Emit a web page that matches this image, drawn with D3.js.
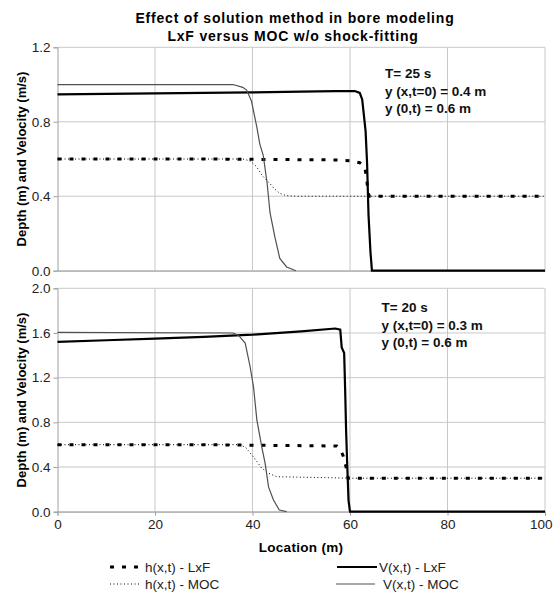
<!DOCTYPE html>
<html>
<head>
<meta charset="utf-8">
<script src="https://cdn.jsdelivr.net/npm/d3@7"></script>
<style>
  body { margin: 0; background: #fff; }
  text { font-family: "Liberation Sans", Arial, sans-serif; }
</style>
</head>
<body>
<div id="chart"></div>
<script>
// x ticks shared by both panels
const xTicks = [0, 20, 40, 60, 80, 100];

// Top panel: T = 25 s, y(x,t=0) = 0.4 m
const topYTicks = [0.0, 0.4, 0.8, 1.2];
const topNotes = ['T= 25 s', 'y (x,t=0) = 0.4 m', 'y (0,t) = 0.6 m'];
const topHLxF = [[0, 0.6], [30, 0.6], [57, 0.595], [60, 0.59], [62, 0.58], [63, 0.56], [63.4, 0.5], [63.7, 0.42], [64, 0.4], [100, 0.4]];
const topHMOC = [[0, 0.6], [38, 0.6], [39.5, 0.59], [40.8, 0.56], [42, 0.51], [43.5, 0.47], [44.5, 0.44], [45.6, 0.415], [47, 0.403], [49, 0.4], [100, 0.4]];
const topVLxF = [[0, 0.947], [10, 0.95], [20, 0.952], [30, 0.955], [40, 0.958], [50, 0.962], [57, 0.965], [61, 0.965], [62, 0.955], [62.5, 0.92], [63.2, 0.75], [63.5, 0.58], [63.8, 0.3], [64.2, 0.1], [64.5, 0], [100, 0]];
const topVMOC = [[0, 1.0], [36, 1.0], [38, 0.985], [38.8, 0.97], [39.8, 0.91], [40.9, 0.77], [41.5, 0.68], [42.2, 0.62], [43, 0.47], [43.6, 0.31], [44.6, 0.18], [45.6, 0.066], [47, 0.02], [48.9, 0]];

// Bottom panel: T = 20 s, y(x,t=0) = 0.3 m
const botYTicks = [0.0, 0.4, 0.8, 1.2, 1.6, 2.0];
const botNotes = ['T= 20 s', 'y (x,t=0) = 0.3 m', 'y (0,t) = 0.6 m'];
const botHLxF = [[0, 0.6], [30, 0.6], [57.3, 0.588], [57.9, 0.567], [58.6, 0.5], [59.2, 0.4], [59.6, 0.3], [100, 0.3]];
const botHMOC = [[0, 0.6], [37, 0.6], [38.5, 0.58], [40.2, 0.49], [41.9, 0.39], [43.3, 0.344], [45, 0.313], [55, 0.305], [60, 0.3], [100, 0.3]];
const botVLxF = [[0, 1.52], [10, 1.535], [20, 1.55], [30, 1.565], [40, 1.585], [50, 1.615], [57, 1.64], [58, 1.63], [58.3, 1.47], [58.8, 1.42], [59, 1.1], [59.2, 0.73], [59.4, 0.46], [59.7, 0.1], [60, 0], [100, 0]];
const botVMOC = [[0, 1.605], [36, 1.6], [37.1, 1.58], [38.5, 1.51], [39.5, 1.3], [40.2, 1.12], [40.9, 0.82], [41.9, 0.58], [42.6, 0.43], [43.3, 0.22], [44.3, 0.105], [45.5, 0.015], [47, 0]];

const legendNames = ['h(x,t) - LxF', 'h(x,t) - MOC', 'V(x,t) - LxF', 'V(x,t) - MOC'];

const width = 553, height = 596;
const left = 57.5, right = 545;

const svg = d3.select('#chart')
    .append('svg')
    .attr('width', width)
    .attr('height', height);

svg.append('rect').attr('width', width).attr('height', height).attr('fill', '#fff');

const x = d3.scaleLinear().domain([0, 100]).range([left, right]);

// line styles for each series
const styles = {
    hLxF: {stroke: '#000', width: 3, dash: '4,8'},
    hMOC: {stroke: '#000', width: 1, dash: '1,2.5'},
    vLxF: {stroke: '#000', width: 2.2, dash: null},
    vMOC: {stroke: '#505050', width: 1.2, dash: null}
};

function drawPanel(top, bottom, yMax, yTicks, series, notes, noteX, noteY, showXLabels) {
    const y = d3.scaleLinear().domain([0, yMax]).range([bottom, top]);
    const g = svg.append('g');

    // gridlines
    g.selectAll('.hgrid')
        .data(yTicks)
        .enter()
        .append('line')
        .attr('x1', left).attr('x2', right)
        .attr('y1', d => y(d)).attr('y2', d => y(d))
        .attr('stroke', '#c8c8c8').attr('stroke-width', 1);
    g.selectAll('.vgrid')
        .data(xTicks.slice(1))
        .enter()
        .append('line')
        .attr('x1', d => x(d)).attr('x2', d => x(d))
        .attr('y1', top).attr('y2', bottom)
        .attr('stroke', '#c8c8c8').attr('stroke-width', 1);

    // axes
    const yAxis = g.append('g')
        .attr('transform', `translate(${left},0)`)
        .call(d3.axisLeft(y).tickValues(yTicks).tickFormat(d3.format('.1f')).tickSize(4).tickPadding(3));
    yAxis.select('.domain').attr('stroke', '#a0a0a0');
    yAxis.selectAll('.tick line').attr('stroke', '#a0a0a0');
    yAxis.selectAll('text').attr('font-size', 13.5).attr('fill', '#222');

    const xAxis = g.append('g')
        .attr('transform', `translate(0,${bottom})`)
        .call(d3.axisBottom(x).tickValues(xTicks).tickSize(showXLabels ? 4 : 0).tickPadding(4));
    xAxis.select('.domain').attr('stroke', '#a0a0a0');
    xAxis.selectAll('.tick line').attr('stroke', '#a0a0a0');
    xAxis.selectAll('text').attr('font-size', 13.5).attr('fill', '#222');
    if (!showXLabels) {
        xAxis.selectAll('text').remove();
    } else {
        // last label sits against the right edge, as in the original
        xAxis.selectAll('.tick text')
            .filter(d => d === 100)
            .attr('text-anchor', 'end')
            .attr('x', width - 1 - x(100));
    }

    const line = d3.line().x(d => x(d[0])).y(d => y(d[1]));

    series.forEach(s => {
        const st = styles[s.key];
        g.append('path')
            .datum(s.data)
            .attr('d', line)
            .attr('fill', 'none')
            .attr('stroke', st.stroke)
            .attr('stroke-width', st.width)
            .attr('stroke-dasharray', st.dash);
    });

    // annotation
    g.selectAll('.note')
        .data(notes)
        .enter()
        .append('text')
        .attr('x', noteX)
        .attr('y', (d, i) => noteY + i * 17.3)
        .attr('dy', '0.35em')
        .attr('font-size', 13.5)
        .attr('font-weight', 'bold')
        .attr('fill', '#111')
        .text(d => d);

    // y axis title
    g.append('text')
        .attr('transform', `translate(21,${(top + bottom) / 2}) rotate(-90)`)
        .attr('text-anchor', 'middle')
        .attr('dy', '0.35em')
        .attr('font-size', 13)
        .attr('font-weight', 'bold')
        .text('Depth (m) and Velocity (m/s)');
}

drawPanel(47.3, 270.7, 1.2, topYTicks,
    [{key: 'hLxF', data: topHLxF}, {key: 'hMOC', data: topHMOC}, {key: 'vLxF', data: topVLxF}, {key: 'vMOC', data: topVMOC}],
    topNotes, 385, 73.5, false);

drawPanel(288.3, 511.7, 2.0, botYTicks,
    [{key: 'hLxF', data: botHLxF}, {key: 'hMOC', data: botHMOC}, {key: 'vLxF', data: botVLxF}, {key: 'vMOC', data: botVMOC}],
    botNotes, 381.5, 307.7, true);

// title
svg.append('text')
    .attr('x', 295).attr('y', 18).attr('dy', '0.35em')
    .attr('text-anchor', 'middle')
    .attr('font-size', 14).attr('font-weight', 'bold')
    .attr('letter-spacing', 0.8)
    .text('Effect of solution method in bore modeling');
svg.append('text')
    .attr('x', 293).attr('y', 36).attr('dy', '0.35em')
    .attr('text-anchor', 'middle')
    .attr('font-size', 14).attr('font-weight', 'bold')
    .attr('letter-spacing', 0.8)
    .text('LxF versus MOC w/o shock-fitting');

// x axis title
svg.append('text')
    .attr('x', 301).attr('y', 547).attr('dy', '0.35em')
    .attr('text-anchor', 'middle')
    .attr('font-size', 13.5).attr('font-weight', 'bold')
    .attr('letter-spacing', 0.3)
    .text('Location (m)');

// legend
const legendPos = [
    {x1: 110, x2: 141, tx: 145, y: 567, key: 'hLxF'},
    {x1: 110, x2: 141, tx: 145, y: 584, key: 'hMOC'},
    {x1: 337, x2: 377, tx: 379, y: 567, key: 'vLxF'},
    {x1: 336, x2: 375, tx: 383, y: 584, key: 'vMOC'}
];
legendPos.forEach((p, i) => {
    const st = styles[p.key];
    svg.append('line')
        .attr('x1', p.x1).attr('x2', p.x2)
        .attr('y1', p.y).attr('y2', p.y)
        .attr('stroke', st.stroke)
        .attr('stroke-width', st.width)
        .attr('stroke-dasharray', st.dash);
    svg.append('text')
        .attr('x', p.tx).attr('y', p.y).attr('dy', '0.35em')
        .attr('font-size', 13.5).attr('fill', '#222')
        .text(legendNames[i]);
});
</script>
</body>
</html>
